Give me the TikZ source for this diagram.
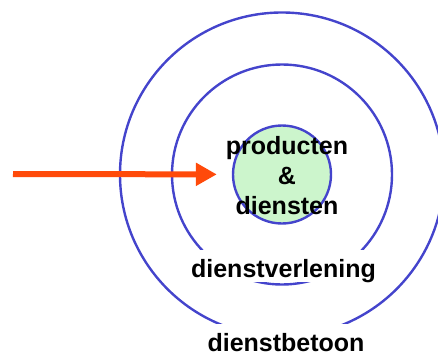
\documentclass[tikz,border=0pt]{standalone}
\usepackage{fontspec}
\setmainfont{Liberation Sans}
\usepackage{tikz}
\usetikzlibrary{arrows.meta, positioning}
\definecolor{ringblue}{HTML}{4444CC}
\definecolor{corefill}{HTML}{CCF5CC}
\definecolor{arrowred}{HTML}{FF4A0A}

\begin{document}
\begin{tikzpicture}[x=1pt, y=-1pt,
    ring/.style={circle, draw=ringblue, line width=2.4pt, inner sep=0pt},
    lbl/.style={font=\fontsize{25}{30}\selectfont\bfseries, align=center},
    cut/.style={lbl, fill=white, text height=27pt, text depth=5pt,
                inner ysep=0pt, inner xsep=2pt, anchor=base},
    arr/.style={-{Triangle[length=21pt, width=22pt]}, line width=6pt, arrowred}
]
\useasboundingbox (0,0) rectangle (438,356);
\node[ring, minimum size=324pt] (outer) at (282,174.5) {};
\node[ring, minimum size=220pt] (middle) at (282,174.5) {};
\node[ring, fill=corefill, minimum size=98pt] (core) at (282,174.5) {};
\node[lbl] (prod) at (287,176) {producten\\\&\\diensten};
\node[cut] (verl) at (283.5,277) {dienstverlening};
\node[cut, text depth=1pt] (betoon) at (286,351) {dienstbetoon};
\coordinate (src) at (13,174);
\draw[arr, shorten >=15pt] (src) -- (core);
\end{tikzpicture}
\end{document}
